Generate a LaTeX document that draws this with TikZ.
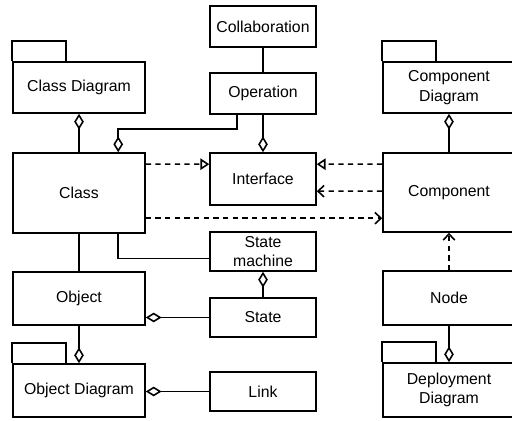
\documentclass[tikz,border=0pt]{standalone}
\usepackage{fontspec}
\setmainfont{Liberation Sans}
\usetikzlibrary{arrows.meta, calc}

% package tab on top of a box
\newcommand{\pkgtab}[1]{\draw (#1.north west) -- ++(0,-20) -- ++(54,0) -- ++(0,20);}

\tikzset{
    agg/.tip={Diamond[open, length=9pt, width=5.5pt]},
    real/.tip={Triangle[open, length=5pt, width=6.5pt]},
    dep/.tip={Straight Barb[length=3.5pt, width=6.5pt]},
    box/.style={draw, inner sep=0pt, align=center, font=\fontsize{9}{11}\selectfont},
    small/.style={box, minimum width=2.12cm},
    wide/.style={box, minimum width=2.64cm},
    dashes/.style={dash pattern=on 3pt off 2.5pt},
}

\begin{document}
\begin{tikzpicture}[x=0.02cm, y=-0.02cm, line width=0.9pt]
    \useasboundingbox (0,0) rectangle (512,421);
    \clip (0,0) rectangle (512,421);
    %
    \node [small, minimum height=0.82cm] (collab) at (263,26.5) {Collaboration};
    \node [small, minimum height=0.82cm] (op) at (263,93.5) {Operation};
    \node [small, minimum height=1.04cm] (iface) at (263,179) {Interface};
    \node [small, minimum height=0.78cm] (sm) at (263,251.5) {State\\machine};
    \node [small, minimum height=0.78cm] (state) at (263,317.5) {State};
    \node [small, minimum height=0.78cm] (link) at (263,391.5) {Link};
    %
    \node [wide, minimum height=1.02cm] (cdiag) at (79,87.5) {Class Diagram};
    \node [wide, minimum height=1.6cm] (class) at (79,193) {Class};
    \node [wide, minimum height=1.06cm] (obj) at (79,298.5) {Object};
    \node [wide, minimum height=1.06cm] (odiag) at (79,390.5) {Object Diagram};
    %
    \node [wide, minimum height=1.02cm] (compdiag) at (449,87.5) {Component\\Diagram};
    \node [wide, minimum height=1.58cm] (comp) at (449,192.5) {Component};
    \node [wide, minimum height=1.08cm] (nd) at (449,298) {Node};
    \node [wide, minimum height=1.08cm] (depdiag) at (449,390) {Deployment\\Diagram};
    %
    \pkgtab{cdiag}
    \pkgtab{odiag}
    \pkgtab{compdiag}
    \pkgtab{depdiag}
    %
    \draw (collab) -- (op);
    \draw [-agg] (op) -- (iface);
    \draw [-agg] ($(op.south west)+(28,0)$) -- ++(0,14) -| ($(class.north west)+(106,0)$);
    \draw [agg-] (cdiag) -- (class);
    \draw (class) -- (obj);
    \draw ($(class.south west)+(106,0)$) |- ($(sm.west)+(0,7)$);
    \draw [agg-] (sm) -- (state);
    \draw [agg-] (obj.east |- state.west) -- (state.west);
    \draw [-agg] (obj) -- (odiag);
    \draw [agg-] (odiag.east |- link.west) -- (link.west);
    \draw [agg-] (compdiag) -- (comp);
    \draw [-agg] (nd) -- (depdiag);
    %
    \draw [dashes, -real] ($(class.north east)+(0,12)$) -- ($(iface.north west)+(0,12)$);
    \draw [dashes, -real] ($(comp.north west)+(0,12)$) -- ($(iface.north east)+(0,12)$);
    \draw [dashes, -dep] ($(comp.north west)+(0,39)$) -- ($(iface.north east)+(0,39)$);
    \draw [dashes, -dep] ($(class.north east)+(0,66)$) -- ($(comp.north west)+(0,66)$);
    \draw [dashes, -dep] (nd) -- (comp);
\end{tikzpicture}
\end{document}
